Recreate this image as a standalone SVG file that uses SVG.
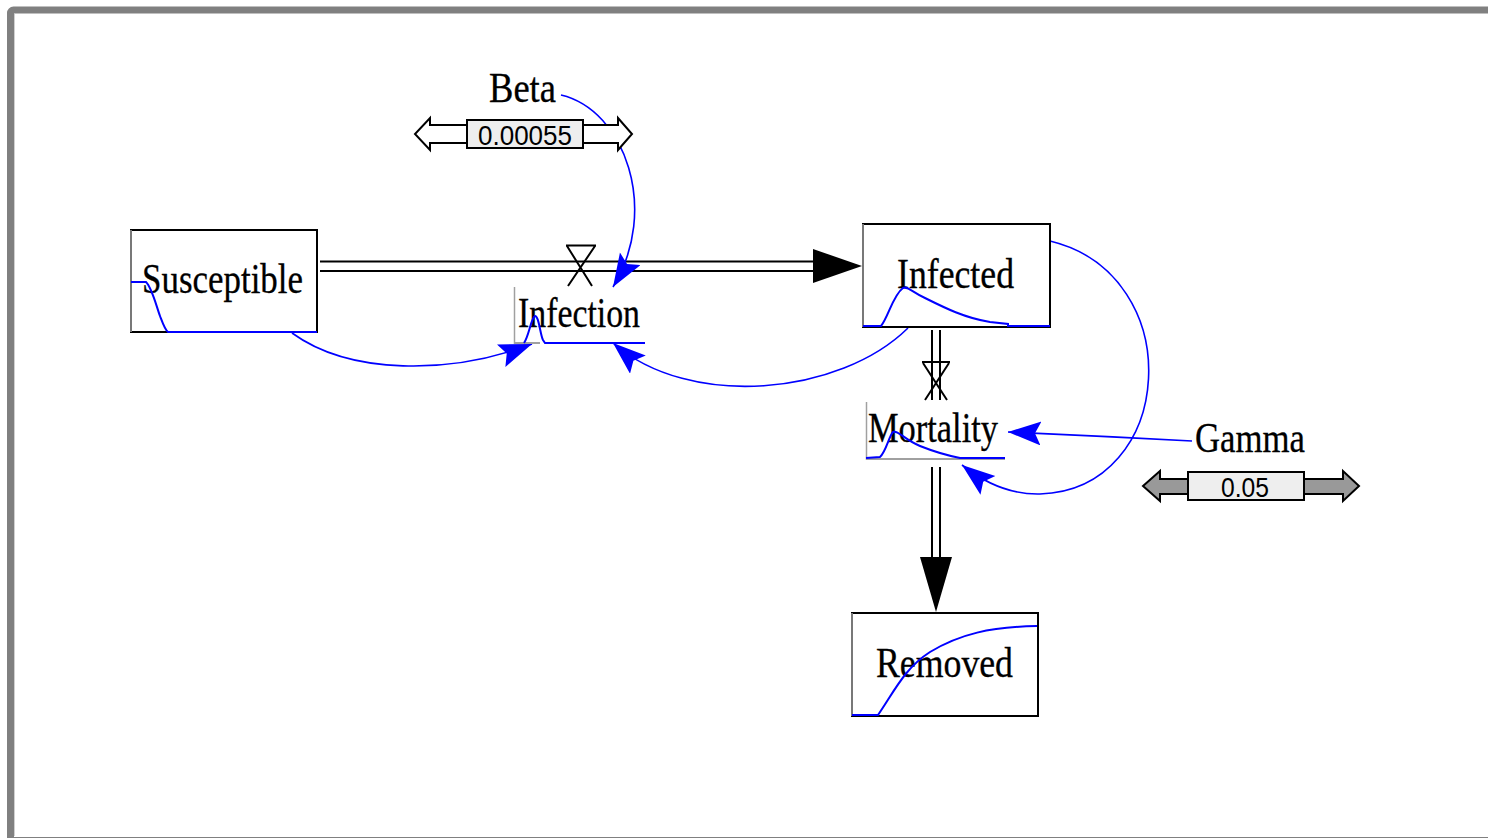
<svg xmlns="http://www.w3.org/2000/svg" width="1488" height="838" viewBox="0 0 1488 838">
  <style>
    .lbl { font-family: "Liberation Serif", "Times New Roman", serif; font-size: 42px; fill: #000; stroke: #000; stroke-width: 0.3; }
    .num { font-family: "Liberation Sans", Arial, sans-serif; font-size: 28px; fill: #000; }
    .stock { fill: #fff; stroke: #000; stroke-width: 2; }
    .edgeL { stroke: #a0a0a0; stroke-width: 1.5; fill: none; }
    .graph { stroke: #0000ff; stroke-width: 2; fill: none; }
    .pipe { stroke: #000; stroke-width: 2; fill: none; }
    .valve { stroke: #000; stroke-width: 2; fill: none; }
    .link { stroke: #0000ff; stroke-width: 1.6; fill: none; marker-end: url(#blueHead); }
    .sliderBox { fill: #eeeeee; stroke: #000; stroke-width: 2; }
  </style>
  <defs>
    <marker id="blueHead" markerUnits="userSpaceOnUse" markerWidth="36" markerHeight="28" refX="33" refY="12" orient="auto">
      <path d="M0,0 L33,12 L0,24 L6,12 Z" fill="#0000ff"/>
    </marker>
  </defs>

  <rect width="1488" height="838" fill="#fff"/>
  <!-- window frame -->
  <rect x="10.5" y="10" width="1490" height="830.5" rx="3" fill="none" stroke="#808080" stroke-width="7"/>
  <line x1="14.5" y1="14" x2="14.5" y2="836" stroke="#d0d0d0" stroke-width="1"/>

  <!-- flow pipes -->
  <g id="pipes">
    <line class="pipe" x1="320" y1="261.5" x2="816" y2="261.5"/>
    <line class="pipe" x1="320" y1="271" x2="816" y2="271"/>
    <path d="M813,249 L862,266 L813,283 Z" fill="#000"/>
    <line class="pipe" x1="932" y1="330" x2="932" y2="400"/>
    <line class="pipe" x1="940" y1="330" x2="940" y2="400"/>
    <line class="pipe" x1="932" y1="467" x2="932" y2="560"/>
    <line class="pipe" x1="940" y1="467" x2="940" y2="560"/>
    <path d="M920,557 L952,557 L936,612 Z" fill="#000"/>
  </g>

  <!-- connectors -->
  <g id="connectors">
    <path class="link" d="M561,95 C625,110 660,210 613,287"/>
    <path class="link" d="M292,333 C350,375 450,375 532,344"/>
    <path class="link" d="M908,328 C840,395 690,410 613,343"/>
    <path class="link" d="M1192,441 Q1100,436 1008,432"/>
    <path class="link" d="M1050,241 C1190,275 1176,490 1040,494 Q1000,495 962,465"/>
  </g>

  <!-- stock: Susceptible -->
  <g id="susceptible">
    <rect class="stock" x="131" y="230" width="186" height="102"/>
    <line class="edgeL" x1="131" y1="230" x2="131" y2="332"/>
    <text class="lbl" x="142" y="293" textLength="161" lengthAdjust="spacingAndGlyphs">Susceptible</text>
    <path class="graph" d="M131,282 L146,282 C152,288 156,305 160,316 C163,324 165,330 168,332 L317,332"/>
  </g>

  <!-- stock: Infected -->
  <g id="infected">
    <rect class="stock" x="863" y="224" width="187" height="103"/>
    <line class="edgeL" x1="863" y1="224" x2="863" y2="327"/>
    <text class="lbl" x="897" y="288" textLength="117" lengthAdjust="spacingAndGlyphs">Infected</text>
    <path class="graph" d="M863,326 L881,326 C888,318 893,295 903,288 C908,286 912,292 925,298 C945,308 965,318 990,322 L1008,324 L1008,326 L1050,326"/>
  </g>

  <!-- stock: Removed -->
  <g id="removed">
    <rect class="stock" x="852" y="613" width="186" height="103"/>
    <line class="edgeL" x1="852" y1="613" x2="852" y2="716"/>
    <text class="lbl" x="876" y="677" textLength="137" lengthAdjust="spacingAndGlyphs">Removed</text>
    <path class="graph" d="M852,715 L878,715 C895,690 905,668 930,652 C960,634 990,627 1037,626"/>
  </g>

  <!-- flow: Infection -->
  <g id="infection">
    <path class="valve" d="M566,245.5 L596,245.5 M567,246 L592,286 M595,246 L568,286"/>
    <line class="edgeL" x1="514.5" y1="287" x2="514.5" y2="344"/>
    <line x1="514" y1="343" x2="540" y2="343" stroke="#a0a0a0" stroke-width="2"/>
    <text class="lbl" x="518" y="327" textLength="122" lengthAdjust="spacingAndGlyphs">Infection</text>
    <path class="graph" d="M524,343 C529,336 531,318 535,316 C539,316 540,334 543,340 L545,343 L645,343"/>
  </g>

  <!-- flow: Mortality -->
  <g id="mortality">
    <path class="valve" d="M922,362 L950,362 M923,363 L947,400 M949,363 L925,400"/>
    <line class="edgeL" x1="866.5" y1="402" x2="866.5" y2="460"/>
    <line x1="866" y1="459" x2="1005" y2="459" stroke="#a0a0a0" stroke-width="2"/>
    <text class="lbl" x="868" y="442" textLength="130" lengthAdjust="spacingAndGlyphs">Mortality</text>
    <path class="graph" d="M866,458 L880,457 C886,452 889,436 893,432 C898,430 905,440 920,446 C935,452 950,456 960,458 L1005,458"/>
  </g>

  <!-- parameter: Beta -->
  <g id="beta">
    <text class="lbl" x="489" y="102" textLength="67" lengthAdjust="spacingAndGlyphs">Beta</text>
    <path d="M467,125 L430,125 L430,118 L415,134 L430,150 L430,143 L467,143 Z" fill="#fff" stroke="#000" stroke-width="2"/>
    <path d="M583,125 L618,125 L618,118 L632,134 L618,150 L618,143 L583,143 Z" fill="#fff" stroke="#000" stroke-width="2"/>
    <rect class="sliderBox" x="467" y="120" width="116" height="28"/>
    <text class="num" x="478" y="145" textLength="94" lengthAdjust="spacingAndGlyphs">0.00055</text>
  </g>

  <!-- parameter: Gamma -->
  <g id="gamma">
    <text class="lbl" x="1195" y="452" textLength="110" lengthAdjust="spacingAndGlyphs">Gamma</text>
    <path d="M1188,479 L1160,479 L1160,471 L1143,486 L1160,501 L1160,494 L1188,494 Z" fill="#999" stroke="#000" stroke-width="2"/>
    <path d="M1304,479 L1343,479 L1343,471 L1359,486 L1343,501 L1343,494 L1304,494 Z" fill="#999" stroke="#000" stroke-width="2"/>
    <rect class="sliderBox" x="1188" y="472" width="116" height="28"/>
    <text class="num" x="1221" y="497" textLength="48" lengthAdjust="spacingAndGlyphs">0.05</text>
  </g>
</svg>
